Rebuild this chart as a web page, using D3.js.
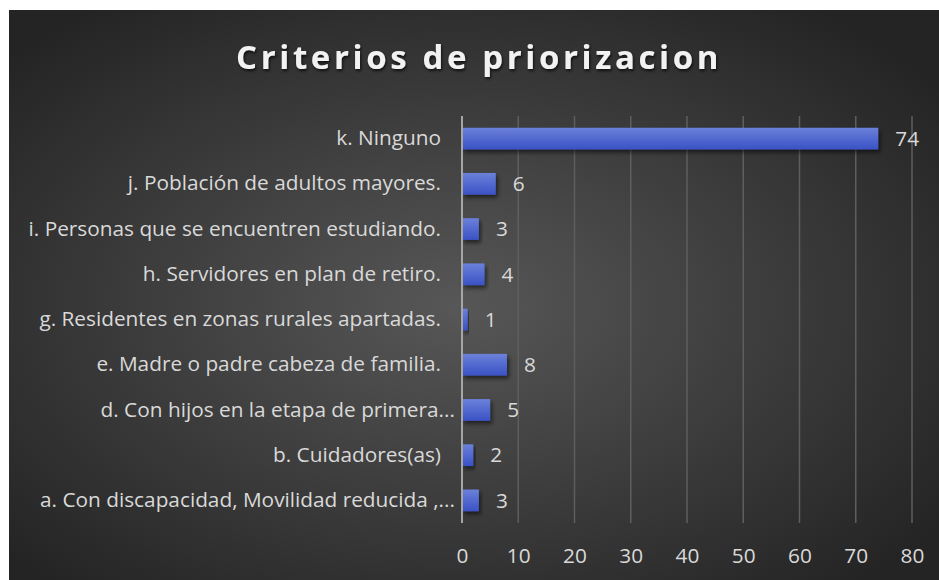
<!DOCTYPE html>
<html>
<head>
<meta charset="utf-8">
<script src="https://cdn.jsdelivr.net/npm/d3@7"></script>
<style>
  body { margin: 0; background: #fff; }
  svg { display: block; }
</style>
</head>
<body>
<svg id="chart" width="939" height="580"></svg>
<script>
// data, bottom to top as in the source
let categories = [
    "a. Con discapacidad, Movilidad reducida ,...",
    "b. Cuidadores(as)",
    "d. Con hijos en la etapa de primera...",
    "e. Madre o padre cabeza de familia.",
    "g. Residentes en zonas rurales apartadas.",
    "h. Servidores en plan de retiro.",
    "i. Personas que se encuentren estudiando.",
    "j. Población de adultos mayores.",
    "k. Ninguno"
];
let values = [3, 2, 5, 8, 1, 4, 3, 6, 74];
let xTicks = [0, 10, 20, 30, 40, 50, 60, 70, 80];
let title = "Criterios de priorizacion";

let svg = d3.select("#chart");
let margin = {top: 116, right: 27, bottom: 57, left: 462};
let width = +svg.attr("width") - margin.left - margin.right;
let height = +svg.attr("height") - margin.top - margin.bottom;
const FONT = "'Open Sans', 'Noto Sans', sans-serif";
const LABEL_SIZE = 20.8;

let defs = svg.append("defs");

// dark background, lighter in the middle
let bg = defs.append("radialGradient").attr("id", "bg")
    .attr("cx", "48%").attr("cy", "52%").attr("r", "65%");
bg.append("stop").attr("offset", "0%").attr("stop-color", "#575757");
bg.append("stop").attr("offset", "100%").attr("stop-color", "#242424");

let barGrad = defs.append("linearGradient").attr("id", "bar")
    .attr("x1", 0).attr("y1", 0).attr("x2", 0).attr("y2", 1);
barGrad.append("stop").attr("offset", "0%").attr("stop-color", "#6b81da");
barGrad.append("stop").attr("offset", "100%").attr("stop-color", "#3a52c5");

let shadow = defs.append("filter").attr("id", "shadow")
    .attr("x", "-20%").attr("y", "-30%").attr("width", "140%").attr("height", "180%");
shadow.append("feDropShadow").attr("dx", 2).attr("dy", 3)
    .attr("stdDeviation", 2).attr("flood-color", "#000").attr("flood-opacity", 0.55);

let titleShadow = defs.append("filter").attr("id", "tshadow")
    .attr("x", "-10%").attr("y", "-30%").attr("width", "120%").attr("height", "170%");
titleShadow.append("feDropShadow").attr("dx", 1).attr("dy", 2)
    .attr("stdDeviation", 1.5).attr("flood-color", "#000").attr("flood-opacity", 0.7);

svg.append("rect")
    .attr("x", 9).attr("y", 10)
    .attr("width", 930).attr("height", 570)
    .attr("fill", "url(#bg)");

// scales
let x = d3.scaleLinear().domain([0, 80]).range([0, width]);
let y = d3.scaleBand()
    .domain(categories.slice().reverse())
    .range([0, height])
    .paddingInner(0.52)
    .paddingOuter(0.26);

let g = svg.append("g").attr("transform", `translate(${margin.left}, ${margin.top})`);

// vertical gridlines
g.append("g")
    .selectAll("line")
    .data(xTicks.slice(1))
    .enter().append("line")
    .attr("x1", (d) => x(d)).attr("x2", (d) => x(d))
    .attr("y1", 0).attr("y2", height)
    .attr("stroke", "#5e5e5e")
    .attr("stroke-width", 1.5);

// bars
g.append("g")
    .selectAll("rect")
    .data(categories.map((c, i) => ({cat: c, val: values[i]})))
    .enter().append("rect")
    .attr("x", 0)
    .attr("y", (d) => y(d.cat))
    .attr("width", (d) => x(d.val))
    .attr("height", y.bandwidth())
    .attr("fill", "url(#bar)")
    .attr("filter", "url(#shadow)");

// category axis line
g.append("line")
    .attr("x1", 0).attr("x2", 0)
    .attr("y1", 0).attr("y2", height)
    .attr("stroke", "#a6a6a6")
    .attr("stroke-width", 2);

// value labels
g.append("g")
    .selectAll("text")
    .data(categories.map((c, i) => ({cat: c, val: values[i]})))
    .enter().append("text")
    .attr("x", (d) => x(d.val) + 17)
    .attr("y", (d) => y(d.cat) + y.bandwidth() / 2)
    .attr("dy", "0.35em")
    .attr("fill", "#d9d9d9")
    .attr("font-family", FONT)
    .attr("font-size", LABEL_SIZE)
    .text((d) => d.val);

// category labels via axisLeft
let yAxis = g.append("g")
    .call(d3.axisLeft(y).tickSize(0).tickPadding(21));
yAxis.select(".domain").remove();
yAxis.selectAll("text")
    .attr("fill", "#d9d9d9")
    .attr("font-family", FONT)
    .attr("font-size", LABEL_SIZE)
    .attr("x", (d) => d.endsWith("...") ? -7 : -21);

// value axis labels
let xAxis = g.append("g")
    .attr("transform", `translate(0, ${height})`)
    .call(d3.axisBottom(x).tickValues(xTicks).tickSize(0).tickPadding(25));
xAxis.select(".domain").remove();
xAxis.selectAll("text")
    .attr("fill", "#d9d9d9")
    .attr("font-family", FONT)
    .attr("font-size", LABEL_SIZE);

// title
svg.append("text")
    .attr("x", 479)
    .attr("y", 69)
    .attr("text-anchor", "middle")
    .attr("fill", "#f2f2f2")
    .attr("font-family", FONT)
    .attr("font-weight", "bold")
    .attr("font-size", 33)
    .attr("letter-spacing", 3.6)
    .attr("filter", "url(#tshadow)")
    .text(title);
</script>
</body>
</html>
